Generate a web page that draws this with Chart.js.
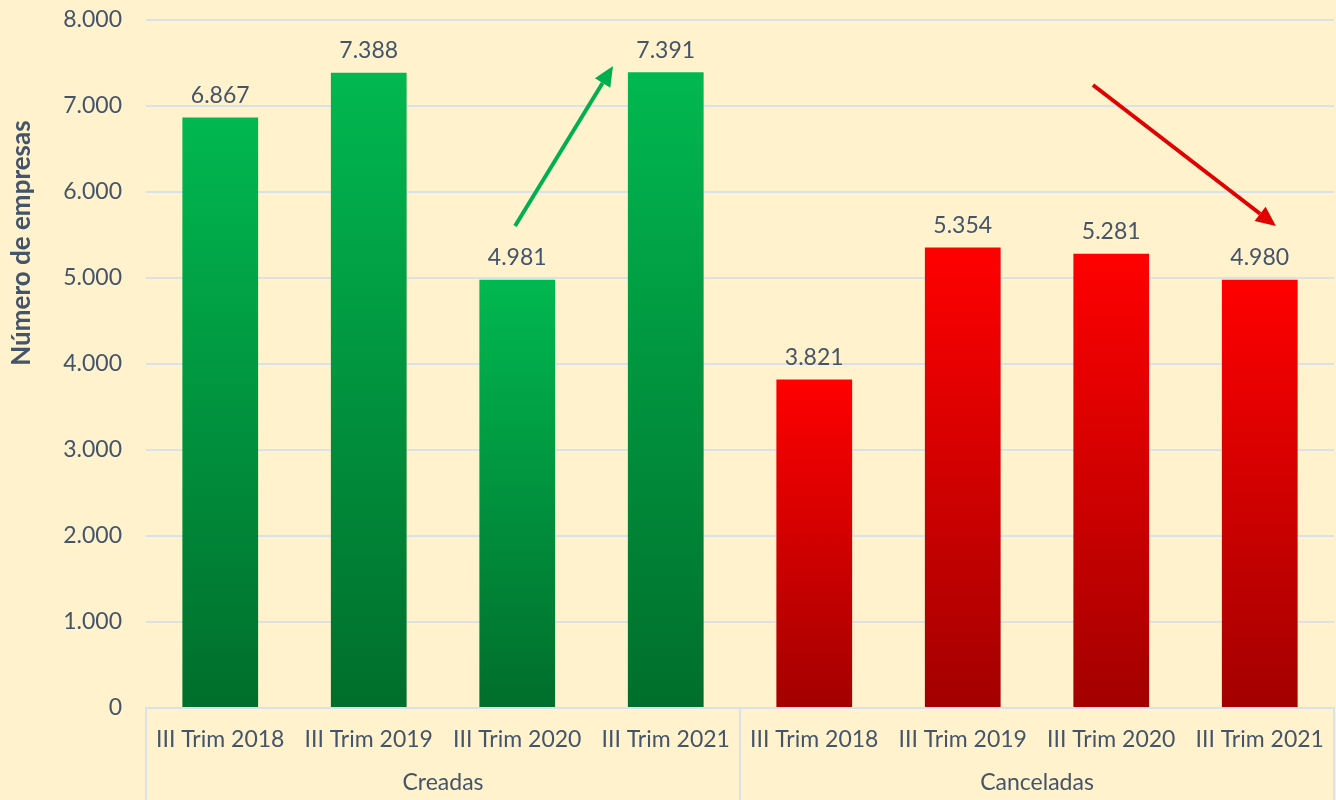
<!DOCTYPE html>
<html>
<head>
<meta charset="utf-8">
<script src="https://cdn.jsdelivr.net/npm/chart.js@4.4.1/dist/chart.umd.min.js"></script>
<style>
  html, body { margin:0; padding:0; background:#FFF2CC; }
  #wrap { width:1336px; height:800px; }
</style>
</head>
<body>
<div id="wrap"><canvas id="chart" width="1336" height="800"></canvas></div>
<script>
// data
const categories = ['III Trim 2018','III Trim 2019','III Trim 2020','III Trim 2021',
                    'III Trim 2018','III Trim 2019','III Trim 2020','III Trim 2021'];
const groups = ['Creadas','Canceladas'];
const creadas = [6867, 7388, 4981, 7391];
const canceladas = [3821, 5354, 5281, 4980];
const yMax = 8000;
const yStep = 1000;
const yTitle = 'Número de empresas';

// arrows in data units: [category index, value]
const arrowUp = { from:[1.985, 5605], to:[2.645, 7465], color:'#00B050' };
const arrowDown = { from:[5.877, 7244], to:[7.109, 5605], color:'#E00000' };

const values = creadas.concat(canceladas);
const TEXT = '#44546A';
const GRID = '#D9E1EA';
const FONT = 'Lato, "Open Sans", sans-serif';

function fmt(v){
  return String(Math.round(v)).replace(/\B(?=(\d{3})+(?!\d))/g, '.');
}

function barFill(ctx){
  const chart = ctx.chart;
  const i = ctx.dataIndex;
  const green = i < creadas.length;
  if(i === undefined || !chart.chartArea) return green ? '#00B050' : '#FF0000';
  const y = chart.scales.y;
  const top = y.getPixelForValue(values[i]);
  const bottom = y.getPixelForValue(0);
  const g = chart.ctx.createLinearGradient(0, top, 0, bottom);
  if(green){
    g.addColorStop(0, '#00B850');
    g.addColorStop(1, '#006E2C');
  } else {
    g.addColorStop(0, '#FF0000');
    g.addColorStop(1, '#A30000');
  }
  return g;
}

function drawArrow(c, x1, y1, x2, y2, color){
  const ang = Math.atan2(y2 - y1, x2 - x1);
  const head = 20, half = 9;
  const bx = x2 - head * Math.cos(ang), by = y2 - head * Math.sin(ang);
  c.save();
  c.strokeStyle = color;
  c.fillStyle = color;
  c.lineWidth = 4;
  c.beginPath();
  c.moveTo(x1, y1);
  c.lineTo(bx, by);
  c.stroke();
  c.beginPath();
  c.moveTo(x2, y2);
  c.lineTo(bx + half * Math.sin(ang), by - half * Math.cos(ang));
  c.lineTo(bx - half * Math.sin(ang), by + half * Math.cos(ang));
  c.closePath();
  c.fill();
  c.restore();
}

const extras = {
  id: 'extras',
  afterDatasetsDraw(chart){
    const c = chart.ctx;
    const meta = chart.getDatasetMeta(0);
    const area = chart.chartArea;
    const xs = chart.scales.x, ys = chart.scales.y;

    // value labels
    c.save();
    c.font = '23px ' + FONT;
    c.fillStyle = TEXT;
    c.textAlign = 'center';
    c.textBaseline = 'middle';
    meta.data.forEach((el, i) => {
      c.fillText(fmt(values[i]), el.x, el.y - 22);
    });
    c.restore();

    // category group frame and labels
    const n = creadas.length;
    const edges = [xs.getPixelForValue(-0.5), xs.getPixelForValue(n - 0.5), xs.getPixelForValue(values.length - 0.5)];
    c.save();
    c.strokeStyle = GRID;
    c.lineWidth = 2;
    edges.forEach(x => {
      c.beginPath();
      c.moveTo(x, area.bottom);
      c.lineTo(x, chart.height);
      c.stroke();
    });
    c.font = '23px ' + FONT;
    c.fillStyle = TEXT;
    c.textAlign = 'center';
    c.textBaseline = 'middle';
    c.fillText(groups[0], (edges[0] + edges[1]) / 2, 783);
    c.fillText(groups[1], (edges[1] + edges[2]) / 2, 783);
    c.restore();

    // axis title
    c.save();
    c.translate(22, 243);
    c.rotate(-Math.PI / 2);
    c.font = 'bold 26px ' + FONT;
    c.fillStyle = TEXT;
    c.textAlign = 'center';
    c.textBaseline = 'middle';
    c.fillText(yTitle, 0, 0);
    c.restore();

    // arrows
    [arrowUp, arrowDown].forEach(a => {
      drawArrow(c,
        xs.getPixelForValue(a.from[0]), ys.getPixelForValue(a.from[1]),
        xs.getPixelForValue(a.to[0]), ys.getPixelForValue(a.to[1]), a.color);
    });
  }
};

new Chart(document.getElementById('chart'), {
  type: 'bar',
  data: {
    labels: categories,
    datasets: [{
      data: values,
      backgroundColor: barFill,
      borderWidth: 0,
      barPercentage: 0.51,
      categoryPercentage: 1
    }]
  },
  options: {
    responsive: false,
    animation: false,
    layout: { padding: { top: 20, right: 2, left: 0, bottom: 0 } },
    plugins: { legend: { display: false }, tooltip: { enabled: false } },
    scales: {
      x: {
        grid: { display: false, drawTicks: false },
        border: { display: true, color: GRID, width: 2 },
        ticks: { color: TEXT, font: { family: FONT, size: 23 }, padding: 18, maxRotation: 0, autoSkip: false },
        afterFit(scale){
          scale.height = 92;
          scale.paddingLeft = 0;
          scale.paddingRight = 0;
        }
      },
      y: {
        min: 0,
        max: yMax,
        ticks: { stepSize: yStep, color: TEXT, font: { family: FONT, size: 23 }, padding: 24, callback: v => fmt(v) },
        grid: { color: GRID, lineWidth: 2, drawTicks: false },
        border: { display: false },
        afterFit(scale){
          scale.width = 146;
          scale.paddingTop = 0;
          scale.paddingBottom = 0;
        }
      }
    }
  },
  plugins: [extras]
});
</script>
</body>
</html>
